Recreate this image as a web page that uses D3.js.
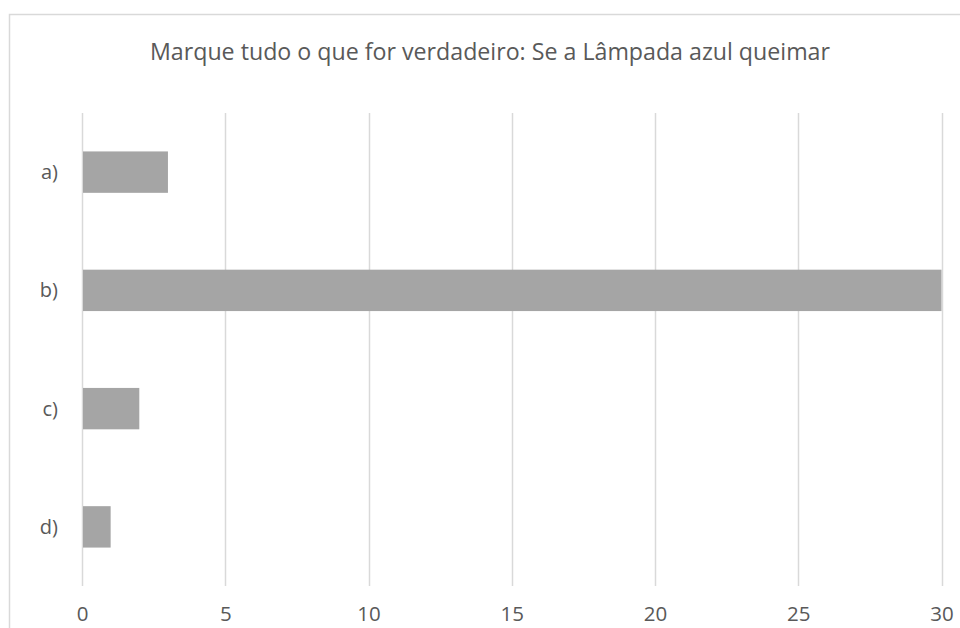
<!DOCTYPE html>
<html>
<head>
<meta charset="utf-8">
<script src="https://cdn.jsdelivr.net/npm/d3@7"></script>
<style>
  html, body { margin: 0; padding: 0; background: #fff; }
  svg { display: block; }
  text { font-family: "Open Sans", "Noto Sans", sans-serif; fill: #595959; }
</style>
</head>
<body>
<svg id="chart" width="960" height="628"></svg>
<script>
// Chart data
const title = "Marque tudo o que for verdadeiro: Se a Lâmpada azul queimar";
const categories = ["a)", "b)", "c)", "d)"];
const values = [3, 30, 2, 1];
const xTicks = [0, 5, 10, 15, 20, 25, 30];

const svg = d3.select("#chart");

// Chart frame (extends past the right and bottom edges of the page)
svg.append("rect")
  .attr("x", 9.5).attr("y", 14.5)
  .attr("width", 1000).attr("height", 700)
  .attr("fill", "none")
  .attr("stroke", "#d9d9d9")
  .attr("stroke-width", 1.5);

const plot = { left: 82, right: 941.5, top: 113, bottom: 586 };

const x = d3.scaleLinear().domain([0, 30]).range([plot.left, plot.right]);
const y = d3.scaleBand()
  .domain(categories)
  .range([plot.top, plot.bottom])
  .paddingInner(0.65)
  .paddingOuter(0.325);

// Vertical gridlines
svg.append("g")
  .selectAll("line")
  .data(xTicks)
  .join("line")
  .attr("x1", d => Math.round(x(d)) + 0.5)
  .attr("x2", d => Math.round(x(d)) + 0.5)
  .attr("y1", plot.top)
  .attr("y2", plot.bottom)
  .attr("stroke", "#d9d9d9")
  .attr("stroke-width", 1.5);

// Bars
svg.append("g")
  .selectAll("rect")
  .data(values)
  .join("rect")
  .attr("x", x(0) + 1)
  .attr("y", (d, i) => y(categories[i]))
  .attr("width", d => x(d) - x(0) - 1)
  .attr("height", y.bandwidth())
  .attr("fill", "#a5a5a5");

// X-axis tick labels
const xAxis = d3.axisBottom(x).tickValues(xTicks).tickSize(0).tickPadding(0);
const gx = svg.append("g")
  .attr("transform", `translate(0, 621)`)
  .call(xAxis);
gx.attr("font-size", 20.5).attr("font-family", "'Open Sans', sans-serif");
gx.select(".domain").remove();
gx.selectAll("text")
  .attr("dy", 0)
  .attr("fill", "#595959");

// Category labels
const yAxis = d3.axisLeft(y).tickSize(0).tickPadding(0);
const gy = svg.append("g")
  .attr("transform", `translate(58, 0)`)
  .call(yAxis);
gy.attr("font-size", 20).attr("font-family", "'Open Sans', sans-serif");
gy.select(".domain").remove();
gy.selectAll("text")
  .attr("dy", "0.35em")
  .attr("fill", "#595959");

// Title
svg.append("text")
  .attr("x", 490)
  .attr("y", 60)
  .attr("text-anchor", "middle")
  .style("font-size", "23.2px")
  .text(title);
</script>
</body>
</html>
